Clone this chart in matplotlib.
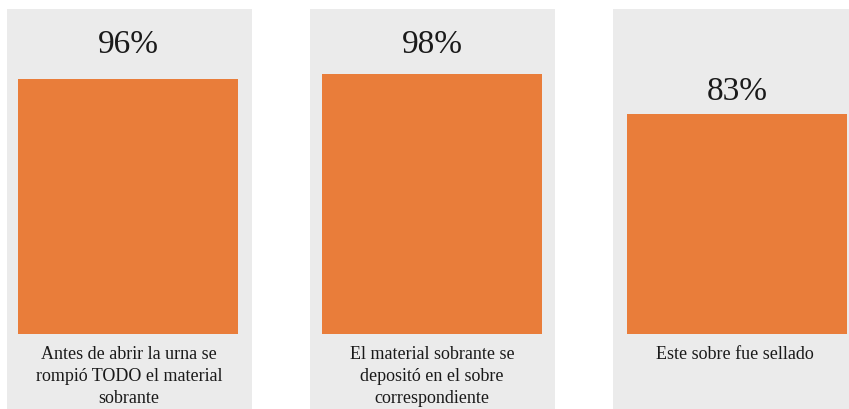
import matplotlib
matplotlib.use("Agg")
import matplotlib.pyplot as plt

categories = [
    "Antes de abrir la urna se\nrompió TODO el material\nsobrante",
    "El material sobrante se\ndepositó en el sobre\ncorrespondiente",
    "Este sobre fue sellado",
]
values = [96, 98, 83]

BAR_COLOR = "#E97D3A"
PANEL_COLOR = "#EBEBEB"

plt.rcParams['font.family'] = ['Liberation Serif', 'DejaVu Serif']

W, H = 849, 410
fig = plt.figure(figsize=(W / 100, H / 100), dpi=100)

panel_left = [7, 310, 613]
bar_left = [11, 12, 14]     # bar offset inside each panel (px)
label_gap = [27, 22, 15]    # gap between bar top and value label baseline (px)
panel_w = 245
panel_top, panel_bot = 10, 410
base_px = 335
px_per = 2.656

for i, (cat, val) in enumerate(zip(categories, values)):
    ax = fig.add_axes([panel_left[i] / W, (H - panel_bot) / H, panel_w / W, (panel_bot - panel_top) / H])
    ax.set_facecolor(PANEL_COLOR)
    ax.set_xlim(0, panel_w)
    ax.set_ylim(-(panel_bot - base_px) / px_per, (base_px - panel_top) / px_per)
    cx = bar_left[i] + 110
    ax.bar(cx, val, width=220, color=BAR_COLOR)
    ax.text(cx, val + label_gap[i] / px_per, f"{val}%", ha='center', va='baseline',
            fontsize=24, color='#1a1a1a')
    ax.text(122, -4.3, cat, ha='center', va='top', fontsize=13, color='#1a1a1a', linespacing=1.36)
    for s in ax.spines.values():
        s.set_visible(False)
    ax.set_xticks([])
    ax.set_yticks([])

fig.savefig("out.png", dpi=100)
